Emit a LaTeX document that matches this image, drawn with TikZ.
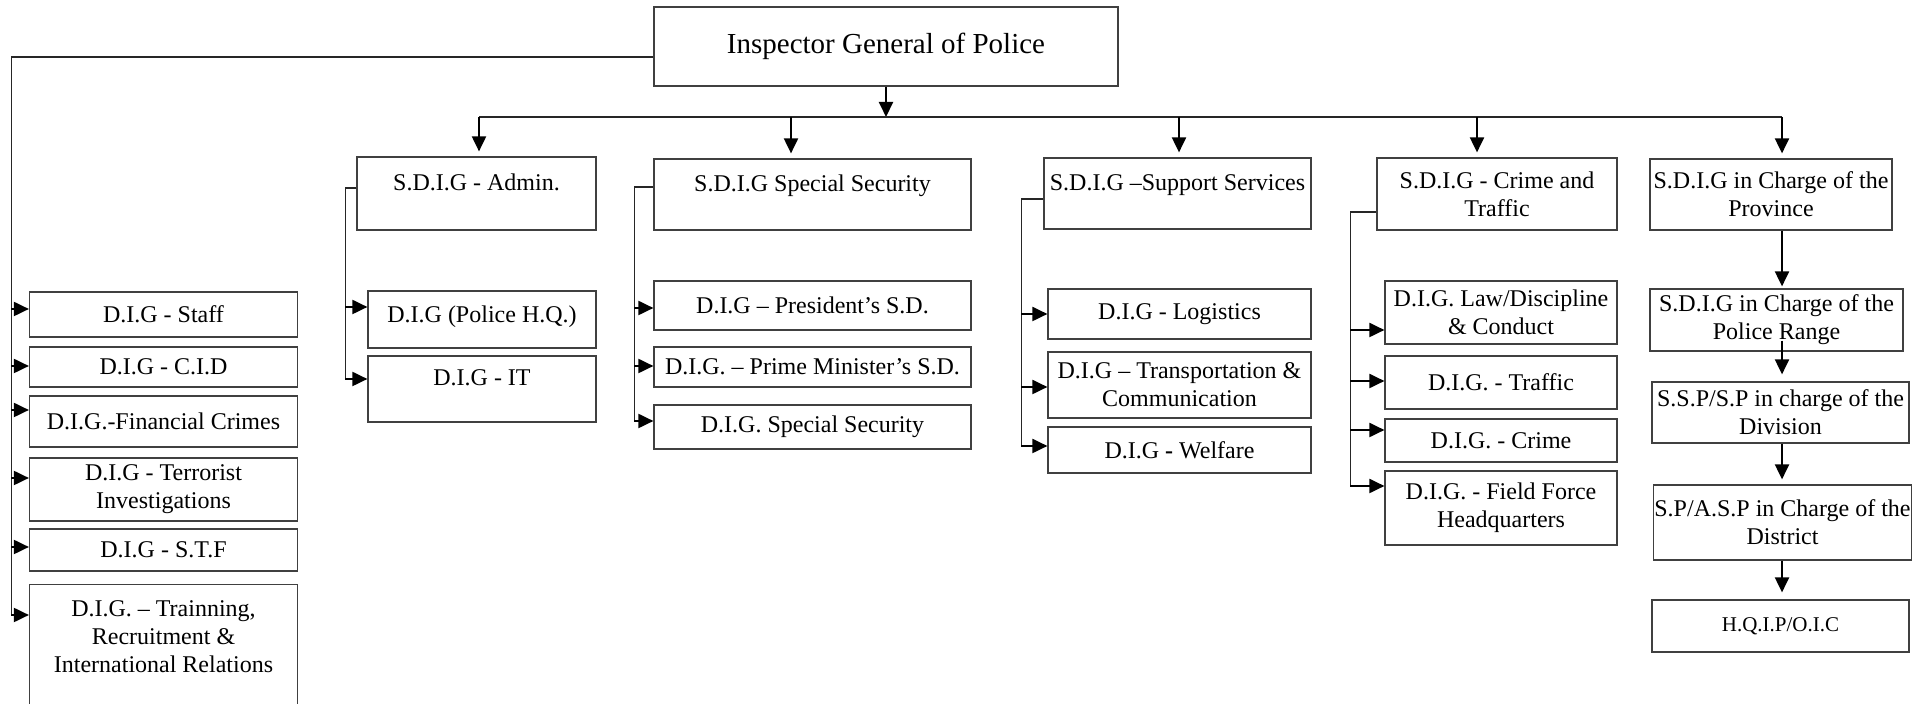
\documentclass[tikz,border=0pt]{standalone}
\usepackage{fontspec}
\setmainfont{Liberation Serif}
\usepackage{tikz}
\usetikzlibrary{arrows.meta, calc, positioning}
\tikzstyle{office} = [rectangle, draw=black!75, line width=0.6pt, inner sep=1pt,
text centered, align=center, font=\fontsize{12}{14}\selectfont]
\tikzstyle{arr} = [-{Triangle[length=7.5pt,width=7pt]}, line width=1pt, black]
\tikzstyle{link} = [line width=0.6pt, black!85]

\begin{document}
\begin{tikzpicture}[x=0.5pt,y=-0.5pt]
   \clip (0,0) rectangle (1932,704);
   \node[office,minimum width=232pt,minimum height=39.5pt,
    font=\fontsize{14.5}{17}\selectfont] (igp) at (886,46.5) {Inspector General of Police};
   % second level
   \node[office,minimum width=119.5pt,minimum height=36.5pt,text height=8.5pt,
    text depth=11pt] (admin) at (476.5,193.5) {S.D.I.G - Admin.};
   \node[office,minimum width=158.5pt,minimum height=35.5pt,text height=8.5pt,
    text depth=11pt] (spsec) at (812.5,194.5) {S.D.I.G Special Security};
   \node[office,minimum width=133.5pt,minimum height=35.5pt,text height=8.5pt,
    text depth=11pt] (support) at (1177.5,193.5) {S.D.I.G --Support Services};
   \node[office,minimum width=120pt,minimum height=36pt] (crtr) at (1497,194)
    {S.D.I.G - Crime and \\ Traffic};
   \node[office,minimum width=121pt,minimum height=35.5pt] (prov) at (1771,194.5)
    {S.D.I.G in Charge of the \\ Province};
   % left column
   \node[office,minimum width=134pt,minimum height=22.5pt] (staff) at (163.5,314.5) {D.I.G - Staff};
   \node[office,minimum width=134pt,minimum height=20pt] (cid) at (163.5,367) {D.I.G - C.I.D};
   \node[office,minimum width=134pt,minimum height=25.5pt] (fin) at (163.5,421.5) {D.I.G.-Financial Crimes};
   \node[office,minimum width=134pt,minimum height=31.5pt] (terr) at (163.5,489.5)
    {D.I.G - Terrorist \\ Investigations};
   \node[office,minimum width=134pt,minimum height=21pt] (stf) at (163.5,550) {D.I.G - S.T.F};
   \node[office,minimum width=134pt,minimum height=80pt,anchor=north] (train) at (163.5,584) {};
   \node[align=center,anchor=north,inner sep=0pt,font=\fontsize{12}{14}\selectfont]
    (traintxt) at ([yshift=-8pt]train.north)
    {D.I.G. -- Trainning, \\ Recruitment \& \\ International Relations};
   % admin
   \node[office,minimum width=114pt,minimum height=28.5pt,text height=8.5pt,
    text depth=5pt] (pol) at (482,319.5) {D.I.G (Police H.Q.)};
   \node[office,minimum width=114pt,minimum height=33pt,text height=8.5pt,
    text depth=11.5pt] (it) at (482,389) {D.I.G - IT};
   % special security
   \node[office,minimum width=158.5pt,minimum height=24.5pt] (pres) at (812.5,305.5)
    {D.I.G -- President’s S.D.};
   \node[office,minimum width=158.5pt,minimum height=20pt] (pm) at (812.5,367)
    {D.I.G. -- Prime Minister’s S.D.};
   \node[office,minimum width=158.5pt,minimum height=22pt] (dsec) at (812.5,427)
    {D.I.G. Special Security};
   % support services
   \node[office,minimum width=131.5pt,minimum height=25pt] (logi) at (1179.5,314) {D.I.G - Logistics};
   \node[office,minimum width=131.5pt,minimum height=33pt] (trans) at (1179.5,385)
    {D.I.G -- Transportation \& \\ Communication};
   \node[office,minimum width=131.5pt,minimum height=23pt] (welf) at (1179.5,450)
    {D.I.G \textbf{-} Welfare};
   % crime and traffic
   \node[office,minimum width=116pt,minimum height=31.5pt] (law) at (1501,312.5)
    {D.I.G. Law/Discipline \\ \& Conduct};
   \node[office,minimum width=116pt,minimum height=26.5pt] (traf) at (1501,382.5) {D.I.G. - Traffic};
   \node[office,minimum width=116pt,minimum height=21.5pt] (crm) at (1501,440.5) {D.I.G. - Crime};
   \node[office,minimum width=116pt,minimum height=37pt] (ffhq) at (1501,508)
    {D.I.G. - Field Force \\ Headquarters};
   % province
   \node[office,minimum width=126.5pt,minimum height=31pt] (range) at (1776.5,320)
    {S.D.I.G in Charge of the \\ Police Range};
   \node[office,minimum width=128.5pt,minimum height=30.5pt] (div) at (1780.5,412.5)
    {S.S.P/S.P in charge of the \\ Division};
   \node[office,minimum width=128.5pt,minimum height=37.5pt,inner xsep=0.3pt] (dist) at (1782.5,522.5)
    {S.P/A.S.P in Charge of the \\ District};
   \node[office,minimum width=128.5pt,minimum height=26pt,
    font=\fontsize{10.5}{12}\selectfont] (hq) at (1780.5,626) {H.Q.I.P/O.I.C};

   % connectors
   \coordinate (b1) at (479,117);
   \coordinate (b2) at (791,117);
   \coordinate (b3) at (1179,117);
   \coordinate (b4) at (1477,117);
   \coordinate (b5) at (1782,117);
   \draw[arr] (igp.south) -- (igp.south |- b1);
   \draw[link] (b1) -- (b5);
   \foreach \b/\n in {b1/admin, b2/spsec, b3/support, b4/crtr, b5/prov}
     \draw[arr, shorten >=2.5pt] (\b) -- (\b |- \n.north);

   \draw[link] ([yshift=-5.25pt]igp.west) -| ([yshift=-15.5pt, xshift=-8.75pt]train.north west);
   \foreach \n/\s in {staff/2.75pt, cid/0.5pt, fin/5.75pt, terr/5.75pt, stf/1.5pt}
     \draw[arr] ([yshift=\s, xshift=-8.75pt]\n.west) -- ([yshift=\s]\n.west);
   \draw[arr] ([yshift=-15.5pt, xshift=-8.75pt]train.north west) -- ([yshift=-15.5pt]train.north west);

   \draw[link] ([yshift=2.75pt]admin.west) -| ([yshift=5pt, xshift=-11pt]it.west);
   \foreach \n/\s in {pol/6.25pt, it/5pt}
     \draw[arr] ([yshift=\s, xshift=-11pt]\n.west) -- ([yshift=\s]\n.west);

   \draw[link] ([yshift=3.75pt]spsec.west) -| ([yshift=3pt, xshift=-9.5pt]dsec.west);
   \foreach \n/\s in {pres/-1.25pt, pm/0.5pt, dsec/3pt}
     \draw[arr] ([yshift=\s, xshift=-9.5pt]\n.west) -- ([yshift=\s]\n.west);

   \draw[link] ([yshift=-2.75pt]support.west) -| ([yshift=2pt, xshift=-13pt]welf.west);
   \foreach \n/\s in {logi/0pt, trans/-1pt, welf/2pt}
     \draw[arr] ([yshift=\s, xshift=-13pt]\n.west) -- ([yshift=\s]\n.west);

   \draw[link] ([yshift=-9pt]crtr.west) -| ([yshift=11pt, xshift=-17pt]ffhq.west);
   \foreach \n/\s in {law/-8.75pt, traf/0.75pt, crm/5.25pt, ffhq/11pt}
     \draw[arr] ([yshift=\s, xshift=-17pt]\n.west) -- ([yshift=\s]\n.west);

   \draw[arr, shorten >=1pt] (prov.south -| b5) -- (range.north -| b5);
   \draw[arr, shorten >=3.5pt] (range.south -| b5) ++(0,-11) -- (div.north -| b5);
   \draw[arr, shorten >=2.5pt] (div.south -| b5) -- (dist.north -| b5);
   \draw[arr, shorten >=3.5pt] (dist.south -| b5) -- (hq.north -| b5);
  \end{tikzpicture}
\end{document}
